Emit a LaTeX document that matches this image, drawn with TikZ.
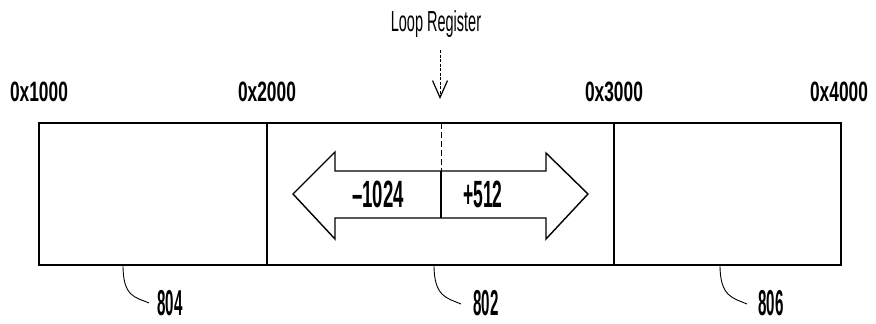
\documentclass[tikz,border=0pt]{standalone}
\usepackage{fontspec}
\setmainfont{Liberation Sans}
\usetikzlibrary{arrows.meta}
\tikzset{
  addr/.style={anchor=base,inner sep=0pt,font=\fontsize{28}{32}\selectfont\bfseries},
  reflbl/.style={anchor=base,inner sep=0pt,text depth=0pt,font=\fontsize{36}{40}\selectfont\bfseries},
  arrlbl/.style={anchor=base,inner sep=0pt,font=\fontsize{38}{42}\selectfont\bfseries},
  titlelbl/.style={anchor=base,inner sep=0pt,font=\fontsize{29}{32}\selectfont},
  frame/.style={line width=2pt},
  divider/.style={line width=1.5pt},
  bigarrow/.style={line width=1.4pt,line join=miter},
  leader/.style={line width=0.9pt},
}
\begin{document}
\begin{tikzpicture}[x=1pt,y=-1pt]
\useasboundingbox (0,0) rectangle (876,324);
% address labels
\node[addr] (a1) at (39,101) {\scalebox{0.62}[1]{0x1000}};
\node[addr] (a2) at (267,101) {\scalebox{0.62}[1]{0x2000}};
\node[addr] (a3) at (614,101) {\scalebox{0.62}[1]{0x3000}};
\node[addr] (a4) at (839,101) {\scalebox{0.62}[1]{0x4000}};
% loop register
\node[titlelbl] (loop) at (436,31) {\scalebox{0.5}[1]{Loop Register}};
\coordinate (ls) at (440,50);
\coordinate (lt) at (440,99);
\draw[line width=0.8pt,dash pattern=on 3pt off 1.5pt,-{Straight Barb[length=17pt,width=15pt,line width=1.2pt]}] (ls) -- (lt);
% memory frame
\coordinate (tl) at (39,123);
\coordinate (br) at (841,265);
\draw[frame] (tl) rectangle (br);
\coordinate (d1t) at (267,123); \coordinate (d1b) at (267,265);
\coordinate (d2t) at (614,123); \coordinate (d2b) at (614,265);
\draw[divider] (d1t) -- (d1b);
\draw[divider] (d2t) -- (d2b);
% double arrow
\draw[bigarrow] (293,194) -- (335,152) -- (335,171) -- (546,171) -- (546,153)
  -- (588,194) -- (546,239) -- (546,218) -- (335,218) -- (335,239) -- cycle;
\coordinate (mt) at (441,123);
\coordinate (ms) at (441,171);
\coordinate (mb) at (441,218);
\draw[line width=0.9pt,dash pattern=on 6pt off 3pt] (mt) -- (ms);
\draw[line width=1.3pt] (ms) -- (mb);
\node[arrlbl] (minus) at (378,207) {\scalebox{0.49}[1]{–1024}};
\node[arrlbl] (plus) at (483,207) {\scalebox{0.46}[1]{+512}};
% reference numerals
\node[reflbl] (n804) at (170,315) {\scalebox{0.42}[1]{804}};
\node[reflbl] (n802) at (486,315) {\scalebox{0.42}[1]{802}};
\node[reflbl] (n806) at (771,315) {\scalebox{0.42}[1]{806}};
\coordinate (s804) at (123,265);
\coordinate (s802) at (434,265);
\coordinate (s806) at (720,265);
\coordinate (e804) at (149,303);
\coordinate (e802) at (461,304);
\coordinate (e806) at (747,304);
\draw[leader] (s804) .. controls +(0,32) and +(-14,-6) .. (e804);
\draw[leader] (s802) .. controls +(0,32) and +(-14,-6) .. (e802);
\draw[leader] (s806) .. controls +(0,32) and +(-14,-6) .. (e806);
\end{tikzpicture}
\end{document}
